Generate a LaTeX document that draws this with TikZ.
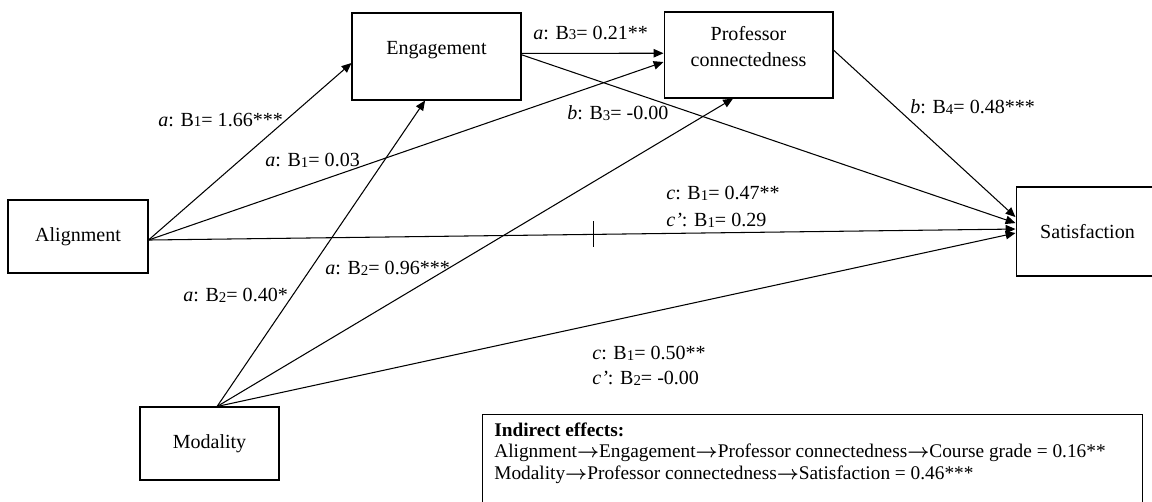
\documentclass[tikz,border=0pt]{standalone}
\usepackage{fontspec}
\setmainfont{Liberation Serif}
\usetikzlibrary{arrows.meta}

% path coefficient: letter, index, value
\newcommand\pathcoef[3]{\textit{#1}: B\raisebox{-0.4pt}{\fontsize{8.5}{8.5}\selectfont #2}= #3}
% heavy arrow used in the note
\newcommand\thento{{\boldmath$\rightarrow$}}

\begin{document}
\begin{tikzpicture}[x=0.02cm, y=-0.02cm,
    font=\fontsize{11.4}{15.3}\selectfont,
    varbox/.style={draw, line width=0.6pt, inner sep=0pt},
    effect/.style={-{Triangle[length=5.6pt,width=4.8pt]}, line width=0.6pt},
    coef/.style={anchor=west, inner sep=0pt},
    note/.style={anchor=base west, inner sep=0pt, font=\fontsize{11}{12}\selectfont}]
  \useasboundingbox (0,0) rectangle (1152,501);

  % the variables
  \node[varbox, minimum width=2.8cm, minimum height=1.46cm] (al) at (78,236.5) {Alignment};
  \node[varbox, minimum width=3.38cm, minimum height=1.74cm] (eng) at (436.5,56.5) {};
  \node (engtext) at (436.5,50) {Engagement};
  \node[varbox, minimum width=3.38cm, minimum height=1.72cm] (prof) at (748.5,55) {};
  \node[align=center] (proftext) at (748.5,46.5) {Professor\\connectedness};
  \node[varbox, minimum width=2.86cm, minimum height=1.78cm] (sat) at (1087.5,231.5) {Satisfaction};
  \node[varbox, minimum width=2.78cm, minimum height=1.46cm] (mod) at (209.5,443.5) {Modality};

  % paths from alignment
  \draw[effect] ([yshift=-2pt]al.east) -- ([yshift=-3.7pt]eng.west);
  \draw[effect] ([yshift=-2pt]al.east) -- ([yshift=-4pt]prof.west);
  \draw[effect] ([yshift=-2pt]al.east) -- coordinate[pos=0.513] (tick) ([yshift=1.4pt]sat.west);
  \draw[line width=0.6pt] ([yshift=7.4pt]tick) -- ([yshift=-7.4pt]tick);

  % paths from the mediators
  \draw[effect] ([yshift=1.8pt]eng.east) -- ([yshift=1pt]prof.west);
  \draw[effect] ([yshift=1pt]eng.east) -- ([yshift=4.8pt]sat.west);
  \draw[effect] ([yshift=2.8pt]prof.east) -- ([yshift=8.2pt]sat.west);

  % paths from modality
  \draw[effect] ([xshift=4.3pt]mod.north) -- ([xshift=-6.5pt]eng.south);
  \draw[effect] ([xshift=4.3pt]mod.north) -- ([xshift=-8.8pt]prof.south);
  \draw[effect] ([xshift=4.3pt]mod.north) -- ([yshift=-0.85pt]sat.west);

  % coefficients
  \node[coef] (c1) at (158,120) {\pathcoef{a}{1}{1.66***}};
  \node[coef] (c2) at (265,160) {\pathcoef{a}{1}{0.03}};
  \node[coef] (c3) at (533,33) {\pathcoef{a}{3}{0.21**}};
  \node[coef] (c4) at (567,113) {\pathcoef{b}{3}{-0.00}};
  \node[coef] (c5) at (910,107) {\pathcoef{b}{4}{0.48***}};
  \node[coef] (c6) at (666,193) {\pathcoef{c}{1}{0.47**}};
  \node[coef] (c7) at (666,220) {\pathcoef{c’}{1}{0.29}};
  \node[coef] (c8) at (183,295) {\pathcoef{a}{2}{0.40*}};
  \node[coef] (c9) at (325,268) {\pathcoef{a}{2}{0.96***}};
  \node[coef] (c10) at (592,353) {\pathcoef{c}{1}{0.50**}};
  \node[coef] (c11) at (592,378) {\pathcoef{c'}{2}{-0.00}};

  % indirect effects
  \node[draw, line width=0.6pt, anchor=north west, minimum width=13.2cm, minimum height=2cm] (ind) at (482,414) {};
  \node[note] (ind1) at (494,436) {\textbf{Indirect effects:}};
  \node[note] (ind2) at (494,457.5) {Alignment\thento Engagement\thento Professor connectedness\thento Course grade = 0.16**};
  \node[note] (ind3) at (494,479.5) {Modality\thento Professor connectedness\thento Satisfaction = 0.46***};
\end{tikzpicture}
\end{document}
